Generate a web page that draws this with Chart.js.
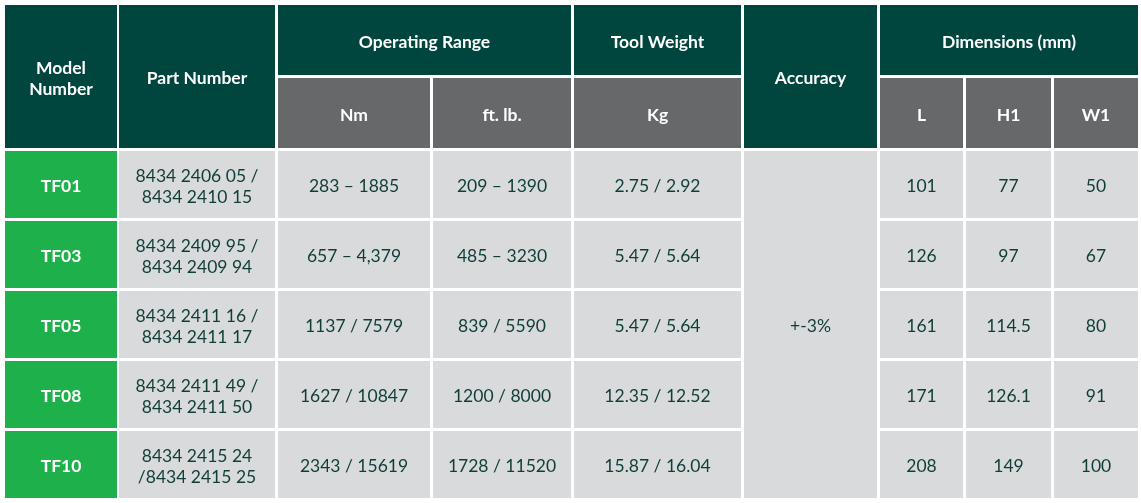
<!DOCTYPE html>
<html><head><meta charset="utf-8">
<script src="https://cdn.jsdelivr.net/npm/chart.js@4"></script>
<style>html,body{margin:0;padding:0;background:#fff}</style>
</head><body>
<canvas id="c" width="1141" height="503"></canvas>
<script>
const models = ["TF01","TF03","TF05","TF08","TF10"];
const partNumbers = [["8434 2406 05 /","8434 2410 15"],["8434 2409 95 /","8434 2409 94"],["8434 2411 16 /","8434 2411 17"],["8434 2411 49 /","8434 2411 50"],["8434 2415 24","/8434 2415 25"]];
const nmRange = ["283 – 1885","657 – 4,379","1137 / 7579","1627 / 10847","2343 / 15619"];
const ftlbRange = ["209 – 1390","485 – 3230","839 / 5590","1200 / 8000","1728 / 11520"];
const toolWeight = ["2.75 / 2.92","5.47 / 5.64","5.47 / 5.64","12.35 / 12.52","15.87 / 16.04"];
const accuracy = "+-3%";
const dimL = ["101","126","161","171","208"];
const dimH1 = ["77","97","114.5","126.1","149"];
const dimW1 = ["50","67","80","91","100"];

// layout (pixels in scale units)
const colX = [[5,117],[119,275],[278,430],[433,571],[574,741],[744,877],[880,963],[966,1051],[1054,1138]];
const hdrY = [[5,75],[78,148]];
const rowY = [[151,218],[221,288],[291,358],[361,428],[431,498]];
const C = {dark:"#00463e", grey:"#67686a", green:"#1eb14b", body:"#d9dadb", text:"#0f3d38"};

const tablePlugin = {
  id:"table",
  afterDraw(chart){
    const ctx = chart.ctx, xs = chart.scales.x, ys = chart.scales.y;
    const cell = (x0,x1,y0,y1,fill,lines,color,bold,size)=>{
      const px0=xs.getPixelForValue(x0), px1=xs.getPixelForValue(x1);
      const py0=ys.getPixelForValue(y0), py1=ys.getPixelForValue(y1);
      ctx.fillStyle=fill; ctx.fillRect(px0,py0,px1-px0,py1-py0);
      ctx.fillStyle=color; ctx.textAlign="center"; ctx.textBaseline="middle";
      ctx.font=(bold?"bold ":"")+size+"px Lato";
      const lh=size*1.2, cx=(px0+px1)/2, cy=(py0+py1)/2+2;
      lines.forEach((t,i)=>ctx.fillText(t,cx,cy+(i-(lines.length-1)/2)*lh));
    };
    const H=(c0,c1,r0,r1,fill,lines)=>cell(colX[c0][0],colX[c1][1],hdrY[r0][0],hdrY[r1][1],fill,lines,"#fff",true,17.5);
    H(0,0,0,1,C.dark,["Model","Number"]);
    H(1,1,0,1,C.dark,["Part Number"]);
    H(2,3,0,0,C.dark,["Operating Range"]);
    H(4,4,0,0,C.dark,["Tool Weight"]);
    H(5,5,0,1,C.dark,["Accuracy"]);
    H(6,8,0,0,C.dark,["Dimensions (mm)"]);
    H(2,2,1,1,C.grey,["Nm"]); H(3,3,1,1,C.grey,["ft. lb."]); H(4,4,1,1,C.grey,["Kg"]);
    H(6,6,1,1,C.grey,["L"]); H(7,7,1,1,C.grey,["H1"]); H(8,8,1,1,C.grey,["W1"]);
    const cols=[null,partNumbers,nmRange,ftlbRange,toolWeight,null,dimL,dimH1,dimW1];
    models.forEach((m,r)=>{
      const [y0,y1]=rowY[r];
      cell(colX[0][0],colX[0][1],y0,y1,C.green,[m],"#fff",true,17.5);
      cols.forEach((arr,c)=>{ if(!arr) return;
        const v=arr[r]; cell(colX[c][0],colX[c][1],y0,y1,C.body,Array.isArray(v)?v:[v],C.text,false,17.5);
      });
    });
    cell(colX[5][0],colX[5][1],rowY[0][0],rowY[4][1],C.body,[accuracy],C.text,false,17.5);
  }
};

new Chart(document.getElementById("c"),{
  type:"scatter",
  data:{datasets:[{data:[]}]},
  options:{responsive:false,animation:false,layout:{padding:0},
    plugins:{legend:{display:false},tooltip:{enabled:false}},
    scales:{x:{type:"linear",min:0,max:1141,display:false},
            y:{type:"linear",min:0,max:503,reverse:true,display:false}}},
  plugins:[tablePlugin]
});
</script>
</body></html>
